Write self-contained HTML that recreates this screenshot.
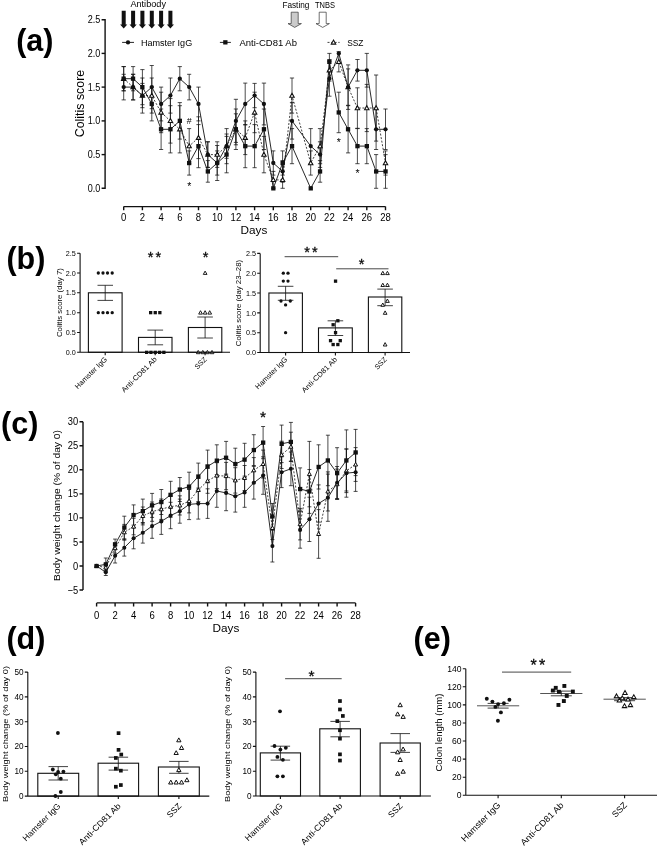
<!DOCTYPE html>
<html lang="en"><head><meta charset="utf-8"><title>Figure</title>
<style>html,body{margin:0;padding:0;background:#fff}svg{display:block}text{font-family:"Liberation Sans",sans-serif}</style></head><body>
<svg width="657" height="847" viewBox="0 0 657 847">
<rect width="657" height="847" fill="#fff"/>
<text x="16.2" y="50.8" font-size="30.5" text-anchor="start" fill="#000" font-weight="bold">(a)</text>
<text x="6.4" y="268.8" font-size="30.5" text-anchor="start" fill="#000" font-weight="bold">(b)</text>
<text x="1.1" y="433.8" font-size="30.5" text-anchor="start" fill="#000" font-weight="bold">(c)</text>
<text x="6.4" y="648.6" font-size="30.5" text-anchor="start" fill="#000" font-weight="bold">(d)</text>
<text x="413.6" y="648.6" font-size="30.5" text-anchor="start" fill="#000" font-weight="bold">(e)</text>
<path d="M101.6 19.7H105.1V188.3H101.6" stroke="#111" stroke-width="1.4" fill="none"/>
<line x1="101.6" y1="154.6" x2="105.1" y2="154.6" stroke="#111" stroke-width="1.4"/>
<line x1="101.6" y1="120.9" x2="105.1" y2="120.9" stroke="#111" stroke-width="1.4"/>
<line x1="101.6" y1="87.1" x2="105.1" y2="87.1" stroke="#111" stroke-width="1.4"/>
<line x1="101.6" y1="53.4" x2="105.1" y2="53.4" stroke="#111" stroke-width="1.4"/>
<text x="100.3" y="191.8" font-size="10.3" text-anchor="end" fill="#000" textLength="12.6" lengthAdjust="spacingAndGlyphs">0.0</text>
<text x="100.3" y="158.1" font-size="10.3" text-anchor="end" fill="#000" textLength="12.6" lengthAdjust="spacingAndGlyphs">0.5</text>
<text x="100.3" y="124.4" font-size="10.3" text-anchor="end" fill="#000" textLength="12.6" lengthAdjust="spacingAndGlyphs">1.0</text>
<text x="100.3" y="90.6" font-size="10.3" text-anchor="end" fill="#000" textLength="12.6" lengthAdjust="spacingAndGlyphs">1.5</text>
<text x="100.3" y="56.9" font-size="10.3" text-anchor="end" fill="#000" textLength="12.6" lengthAdjust="spacingAndGlyphs">2.0</text>
<text x="100.3" y="23.2" font-size="10.3" text-anchor="end" fill="#000" textLength="12.6" lengthAdjust="spacingAndGlyphs">2.5</text>
<text x="83.9" y="103.5" font-size="12.3" text-anchor="middle" fill="#000" transform="rotate(-90 83.9 103.5)" textLength="67.4" lengthAdjust="spacingAndGlyphs">Colitis score</text>
<path d="M123.7 206.6H385.5M123.7 206.6v3.6M142.4 206.6v3.6M161.1 206.6v3.6M179.8 206.6v3.6M198.5 206.6v3.6M217.2 206.6v3.6M235.9 206.6v3.6M254.6 206.6v3.6M273.3 206.6v3.6M292 206.6v3.6M310.7 206.6v3.6M329.4 206.6v3.6M348.1 206.6v3.6M366.8 206.6v3.6M385.5 206.6v3.6" stroke="#111" stroke-width="1.4" fill="none"/>
<text x="123.7" y="220.8" font-size="10.6" text-anchor="middle" fill="#000" textLength="5.3" lengthAdjust="spacingAndGlyphs">0</text>
<text x="142.4" y="220.8" font-size="10.6" text-anchor="middle" fill="#000" textLength="5.3" lengthAdjust="spacingAndGlyphs">2</text>
<text x="161.1" y="220.8" font-size="10.6" text-anchor="middle" fill="#000" textLength="5.3" lengthAdjust="spacingAndGlyphs">4</text>
<text x="179.8" y="220.8" font-size="10.6" text-anchor="middle" fill="#000" textLength="5.3" lengthAdjust="spacingAndGlyphs">6</text>
<text x="198.5" y="220.8" font-size="10.6" text-anchor="middle" fill="#000" textLength="5.3" lengthAdjust="spacingAndGlyphs">8</text>
<text x="217.2" y="220.8" font-size="10.6" text-anchor="middle" fill="#000" textLength="10.6" lengthAdjust="spacingAndGlyphs">10</text>
<text x="235.9" y="220.8" font-size="10.6" text-anchor="middle" fill="#000" textLength="10.6" lengthAdjust="spacingAndGlyphs">12</text>
<text x="254.6" y="220.8" font-size="10.6" text-anchor="middle" fill="#000" textLength="10.6" lengthAdjust="spacingAndGlyphs">14</text>
<text x="273.3" y="220.8" font-size="10.6" text-anchor="middle" fill="#000" textLength="10.6" lengthAdjust="spacingAndGlyphs">16</text>
<text x="292" y="220.8" font-size="10.6" text-anchor="middle" fill="#000" textLength="10.6" lengthAdjust="spacingAndGlyphs">18</text>
<text x="310.7" y="220.8" font-size="10.6" text-anchor="middle" fill="#000" textLength="10.6" lengthAdjust="spacingAndGlyphs">20</text>
<text x="329.4" y="220.8" font-size="10.6" text-anchor="middle" fill="#000" textLength="10.6" lengthAdjust="spacingAndGlyphs">22</text>
<text x="348.1" y="220.8" font-size="10.6" text-anchor="middle" fill="#000" textLength="10.6" lengthAdjust="spacingAndGlyphs">24</text>
<text x="366.8" y="220.8" font-size="10.6" text-anchor="middle" fill="#000" textLength="10.6" lengthAdjust="spacingAndGlyphs">26</text>
<text x="385.5" y="220.8" font-size="10.6" text-anchor="middle" fill="#000" textLength="10.6" lengthAdjust="spacingAndGlyphs">28</text>
<text x="254" y="233.8" font-size="11.3" text-anchor="middle" fill="#000" textLength="26.8" lengthAdjust="spacingAndGlyphs">Days</text>
<path d="M123.7 74.3V99.9M121.6 74.3H125.8M121.6 99.9H125.8" stroke="#111" stroke-width="0.75" fill="none"/>
<path d="M133.1 74.3V99.9M131 74.3H135.2M131 99.9H135.2" stroke="#111" stroke-width="0.75" fill="none"/>
<path d="M142.4 78V113.1M140.3 78H144.5M140.3 113.1H144.5" stroke="#111" stroke-width="0.75" fill="none"/>
<path d="M151.8 65.5V108.7M149.7 65.5H153.8M149.7 108.7H153.8" stroke="#111" stroke-width="0.75" fill="none"/>
<path d="M161.1 87.1V120.9M159 87.1H163.2M159 120.9H163.2" stroke="#111" stroke-width="0.75" fill="none"/>
<path d="M170.4 78V113.1M168.3 78H172.5M168.3 113.1H172.5" stroke="#111" stroke-width="0.75" fill="none"/>
<path d="M179.8 66.6V90.8M177.7 66.6H181.9M177.7 90.8H181.9" stroke="#111" stroke-width="0.75" fill="none"/>
<path d="M189.2 74.3V99.9M187.1 74.3H191.2M187.1 99.9H191.2" stroke="#111" stroke-width="0.75" fill="none"/>
<path d="M198.5 87.1V120.9M196.4 87.1H200.6M196.4 120.9H200.6" stroke="#111" stroke-width="0.75" fill="none"/>
<path d="M207.8 141.8V167.4M205.8 141.8H209.9M205.8 167.4H209.9" stroke="#111" stroke-width="0.75" fill="none"/>
<path d="M217.2 150.9V175.1M215.1 150.9H219.3M215.1 175.1H219.3" stroke="#111" stroke-width="0.75" fill="none"/>
<path d="M226.6 128.6V163.7M224.5 128.6H228.7M224.5 163.7H228.7" stroke="#111" stroke-width="0.75" fill="none"/>
<path d="M235.9 99.3V142.4M233.8 99.3H238M233.8 142.4H238" stroke="#111" stroke-width="0.75" fill="none"/>
<path d="M245.2 83.1V124.9M243.2 83.1H247.3M243.2 124.9H247.3" stroke="#111" stroke-width="0.75" fill="none"/>
<path d="M254.6 83.4V107.7M252.5 83.4H256.7M252.5 107.7H256.7" stroke="#111" stroke-width="0.75" fill="none"/>
<path d="M263.9 83.1V124.9M261.8 83.1H266.1M261.8 124.9H266.1" stroke="#111" stroke-width="0.75" fill="none"/>
<path d="M273.3 150.9V175.1M271.2 150.9H275.4M271.2 175.1H275.4" stroke="#111" stroke-width="0.75" fill="none"/>
<path d="M282.6 160.6V182.2M280.5 160.6H284.8M280.5 182.2H284.8" stroke="#111" stroke-width="0.75" fill="none"/>
<path d="M292 102.6V139.1M289.9 102.6H294.1M289.9 139.1H294.1" stroke="#111" stroke-width="0.75" fill="none"/>
<path d="M310.7 128.6V163.7M308.6 128.6H312.8M308.6 163.7H312.8" stroke="#111" stroke-width="0.75" fill="none"/>
<path d="M320.1 141.8V167.4M317.9 141.8H322.2M317.9 167.4H322.2" stroke="#111" stroke-width="0.75" fill="none"/>
<path d="M329.4 61.2V96.2M327.3 61.2H331.5M327.3 96.2H331.5" stroke="#111" stroke-width="0.75" fill="none"/>
<path d="M348.1 64.9V109.4M346 64.9H350.2M346 109.4H350.2" stroke="#111" stroke-width="0.75" fill="none"/>
<path d="M357.4 59.5V81.1M355.3 59.5H359.6M355.3 81.1H359.6" stroke="#111" stroke-width="0.75" fill="none"/>
<path d="M366.8 53.4V87.1M364.7 53.4H368.9M364.7 87.1H368.9" stroke="#111" stroke-width="0.75" fill="none"/>
<path d="M376.1 109V149.5M374 109H378.2M374 149.5H378.2" stroke="#111" stroke-width="0.75" fill="none"/>
<path d="M385.5 109V149.5M383.4 109H387.6M383.4 149.5H387.6" stroke="#111" stroke-width="0.75" fill="none"/>
<path d="M123.7 66.6V90.8M121.6 66.6H125.8M121.6 90.8H125.8" stroke="#111" stroke-width="0.75" fill="none"/>
<path d="M133.1 66.6V90.8M131 66.6H135.2M131 90.8H135.2" stroke="#111" stroke-width="0.75" fill="none"/>
<path d="M142.4 69.6V104.7M140.3 69.6H144.5M140.3 104.7H144.5" stroke="#111" stroke-width="0.75" fill="none"/>
<path d="M151.8 87.1V120.9M149.7 87.1H153.8M149.7 120.9H153.8" stroke="#111" stroke-width="0.75" fill="none"/>
<path d="M161.1 109V149.5M159 109H163.2M159 149.5H163.2" stroke="#111" stroke-width="0.75" fill="none"/>
<path d="M170.4 105.7V152.9M168.3 105.7H172.5M168.3 152.9H172.5" stroke="#111" stroke-width="0.75" fill="none"/>
<path d="M179.8 102.6V139.1M177.7 102.6H181.9M177.7 139.1H181.9" stroke="#111" stroke-width="0.75" fill="none"/>
<path d="M189.2 150.9V175.1M187.1 150.9H191.2M187.1 175.1H191.2" stroke="#111" stroke-width="0.75" fill="none"/>
<path d="M198.5 124.6V167.7M196.4 124.6H200.6M196.4 167.7H200.6" stroke="#111" stroke-width="0.75" fill="none"/>
<path d="M207.8 160.6V182.2M205.8 160.6H209.9M205.8 182.2H209.9" stroke="#111" stroke-width="0.75" fill="none"/>
<path d="M217.2 145.5V180.5M215.1 145.5H219.3M215.1 180.5H219.3" stroke="#111" stroke-width="0.75" fill="none"/>
<path d="M226.6 136.4V172.8M224.5 136.4H228.7M224.5 172.8H228.7" stroke="#111" stroke-width="0.75" fill="none"/>
<path d="M235.9 109V149.5M233.8 109H238M233.8 149.5H238" stroke="#111" stroke-width="0.75" fill="none"/>
<path d="M245.2 124.6V167.7M243.2 124.6H247.3M243.2 167.7H247.3" stroke="#111" stroke-width="0.75" fill="none"/>
<path d="M254.6 124.6V167.7M252.5 124.6H256.7M252.5 167.7H256.7" stroke="#111" stroke-width="0.75" fill="none"/>
<path d="M263.9 109V149.5M261.8 109H266.1M261.8 149.5H266.1" stroke="#111" stroke-width="0.75" fill="none"/>
<path d="M282.6 150.9V175.1M280.5 150.9H284.8M280.5 175.1H284.8" stroke="#111" stroke-width="0.75" fill="none"/>
<path d="M292 128.6V163.7M289.9 128.6H294.1M289.9 163.7H294.1" stroke="#111" stroke-width="0.75" fill="none"/>
<path d="M320.1 160.6V182.2M317.9 160.6H322.2M317.9 182.2H322.2" stroke="#111" stroke-width="0.75" fill="none"/>
<path d="M329.4 53.4V70.3M327.3 53.4H331.5M327.3 70.3H331.5" stroke="#111" stroke-width="0.75" fill="none"/>
<path d="M338.8 92.2V132.7M336.6 92.2H340.9M336.6 132.7H340.9" stroke="#111" stroke-width="0.75" fill="none"/>
<path d="M348.1 105.7V152.9M346 105.7H350.2M346 152.9H350.2" stroke="#111" stroke-width="0.75" fill="none"/>
<path d="M357.4 128.6V163.7M355.3 128.6H359.6M355.3 163.7H359.6" stroke="#111" stroke-width="0.75" fill="none"/>
<path d="M366.8 128.6V163.7M364.7 128.6H368.9M364.7 163.7H368.9" stroke="#111" stroke-width="0.75" fill="none"/>
<path d="M376.1 154.6V188.3M374 154.6H378.2M374 188.3H378.2" stroke="#111" stroke-width="0.75" fill="none"/>
<path d="M385.5 154.6V188.3M383.4 154.6H387.6M383.4 188.3H387.6" stroke="#111" stroke-width="0.75" fill="none"/>
<path d="M123.7 66.6V90.8M121.6 66.6H125.8M121.6 90.8H125.8" stroke="#111" stroke-width="0.75" fill="none"/>
<path d="M133.1 74.3V99.9M131 74.3H135.2M131 99.9H135.2" stroke="#111" stroke-width="0.75" fill="none"/>
<path d="M142.4 83.4V107.7M140.3 83.4H144.5M140.3 107.7H144.5" stroke="#111" stroke-width="0.75" fill="none"/>
<path d="M151.8 78V113.1M149.7 78H153.8M149.7 113.1H153.8" stroke="#111" stroke-width="0.75" fill="none"/>
<path d="M161.1 92.2V132.7M159 92.2H163.2M159 132.7H163.2" stroke="#111" stroke-width="0.75" fill="none"/>
<path d="M170.4 98.6V143.1M168.3 98.6H172.5M168.3 143.1H172.5" stroke="#111" stroke-width="0.75" fill="none"/>
<path d="M179.8 105.7V152.9M177.7 105.7H181.9M177.7 152.9H181.9" stroke="#111" stroke-width="0.75" fill="none"/>
<path d="M189.2 128.6V163.7M187.1 128.6H191.2M187.1 163.7H191.2" stroke="#111" stroke-width="0.75" fill="none"/>
<path d="M198.5 116.8V158.6M196.4 116.8H200.6M196.4 158.6H200.6" stroke="#111" stroke-width="0.75" fill="none"/>
<path d="M207.8 141.8V167.4M205.8 141.8H209.9M205.8 167.4H209.9" stroke="#111" stroke-width="0.75" fill="none"/>
<path d="M217.2 141.8V167.4M215.1 141.8H219.3M215.1 167.4H219.3" stroke="#111" stroke-width="0.75" fill="none"/>
<path d="M226.6 134V158.3M224.5 134H228.7M224.5 158.3H228.7" stroke="#111" stroke-width="0.75" fill="none"/>
<path d="M235.9 113.8V144.8M233.8 113.8H238M233.8 144.8H238" stroke="#111" stroke-width="0.75" fill="none"/>
<path d="M245.2 120.9V154.6M243.2 120.9H247.3M243.2 154.6H247.3" stroke="#111" stroke-width="0.75" fill="none"/>
<path d="M254.6 92.2V132.7M252.5 92.2H256.7M252.5 132.7H256.7" stroke="#111" stroke-width="0.75" fill="none"/>
<path d="M263.9 136.4V172.8M261.8 136.4H266.1M261.8 172.8H266.1" stroke="#111" stroke-width="0.75" fill="none"/>
<path d="M273.3 171.4V188.3M271.2 171.4H275.4M271.2 188.3H275.4" stroke="#111" stroke-width="0.75" fill="none"/>
<path d="M282.6 171.4V188.3M280.5 171.4H284.8M280.5 188.3H284.8" stroke="#111" stroke-width="0.75" fill="none"/>
<path d="M292 78V113.1M289.9 78H294.1M289.9 113.1H294.1" stroke="#111" stroke-width="0.75" fill="none"/>
<path d="M310.7 150.9V175.1M308.6 150.9H312.8M308.6 175.1H312.8" stroke="#111" stroke-width="0.75" fill="none"/>
<path d="M320.1 128.6V163.7M317.9 128.6H322.2M317.9 163.7H322.2" stroke="#111" stroke-width="0.75" fill="none"/>
<path d="M329.4 59.5V81.1M327.3 59.5H331.5M327.3 81.1H331.5" stroke="#111" stroke-width="0.75" fill="none"/>
<path d="M338.8 51.7V71.9M336.6 51.7H340.9M336.6 71.9H340.9" stroke="#111" stroke-width="0.75" fill="none"/>
<path d="M348.1 68.9V105.3M346 68.9H350.2M346 105.3H350.2" stroke="#111" stroke-width="0.75" fill="none"/>
<path d="M357.4 87.8V128.3M355.3 87.8H359.6M355.3 128.3H359.6" stroke="#111" stroke-width="0.75" fill="none"/>
<path d="M366.8 84.4V131.6M364.7 84.4H368.9M364.7 131.6H368.9" stroke="#111" stroke-width="0.75" fill="none"/>
<path d="M376.1 75V141.1M374 75H378.2M374 141.1H378.2" stroke="#111" stroke-width="0.75" fill="none"/>
<path d="M385.5 150.9V175.1M383.4 150.9H387.6M383.4 175.1H387.6" stroke="#111" stroke-width="0.75" fill="none"/>
<path d="M123.7 78.7L133.1 87.1L142.4 95.6L151.8 95.6L161.1 112.4L170.4 120.9L179.8 129.3L189.2 146.1L198.5 137.7L207.8 154.6L217.2 154.6L226.6 146.1L235.9 129.3L245.2 137.7L254.6 112.4L263.9 154.6L273.3 179.9L282.6 179.9L292 95.6L310.7 163L320.1 146.1L329.4 70.3L338.8 61.8L348.1 87.1L357.4 108L366.8 108L376.1 108L385.5 163" stroke="#111" stroke-width="0.8" fill="none" stroke-dasharray="2 1.6"/>
<path d="M123.7 87.1L133.1 87.1L142.4 95.6L151.8 87.1L161.1 104L170.4 95.6L179.8 78.7L189.2 87.1L198.5 104L207.8 154.6L217.2 163L226.6 146.1L235.9 120.9L245.2 104L254.6 95.6L263.9 104L273.3 163L282.6 171.4L292 120.9L310.7 146.1L320.1 154.6L329.4 78.7L338.8 53.4L348.1 87.1L357.4 70.3L366.8 70.3L376.1 129.3L385.5 129.3" stroke="#111" stroke-width="0.9" fill="none"/>
<path d="M123.7 78.7L133.1 78.7L142.4 87.1L151.8 104L161.1 129.3L170.4 129.3L179.8 120.9L189.2 163L198.5 146.1L207.8 171.4L217.2 163L226.6 154.6L235.9 129.3L245.2 146.1L254.6 146.1L263.9 129.3L273.3 188.3L282.6 163L292 146.1L310.7 188.3L320.1 171.4L329.4 61.8L338.8 112.4L348.1 129.3L357.4 146.1L366.8 146.1L376.1 171.4L385.5 171.4" stroke="#111" stroke-width="0.9" fill="none"/>
<path d="M123.7 76.4L125.9 80.4L121.5 80.4Z" fill="#fff" stroke="#111" stroke-width="1.1" stroke-linejoin="miter"/>
<path d="M133.1 84.8L135.2 88.8L130.9 88.8Z" fill="#fff" stroke="#111" stroke-width="1.1" stroke-linejoin="miter"/>
<path d="M142.4 93.3L144.6 97.2L140.2 97.2Z" fill="#fff" stroke="#111" stroke-width="1.1" stroke-linejoin="miter"/>
<path d="M151.8 93.3L153.9 97.2L149.6 97.2Z" fill="#fff" stroke="#111" stroke-width="1.1" stroke-linejoin="miter"/>
<path d="M161.1 110.1L163.3 114.1L158.9 114.1Z" fill="#fff" stroke="#111" stroke-width="1.1" stroke-linejoin="miter"/>
<path d="M170.4 118.6L172.6 122.5L168.2 122.5Z" fill="#fff" stroke="#111" stroke-width="1.1" stroke-linejoin="miter"/>
<path d="M179.8 127L182 130.9L177.6 130.9Z" fill="#fff" stroke="#111" stroke-width="1.1" stroke-linejoin="miter"/>
<path d="M189.2 143.8L191.3 147.8L187 147.8Z" fill="#fff" stroke="#111" stroke-width="1.1" stroke-linejoin="miter"/>
<path d="M198.5 135.4L200.7 139.4L196.3 139.4Z" fill="#fff" stroke="#111" stroke-width="1.1" stroke-linejoin="miter"/>
<path d="M207.8 152.3L210 156.2L205.7 156.2Z" fill="#fff" stroke="#111" stroke-width="1.1" stroke-linejoin="miter"/>
<path d="M217.2 152.3L219.4 156.2L215 156.2Z" fill="#fff" stroke="#111" stroke-width="1.1" stroke-linejoin="miter"/>
<path d="M226.6 143.8L228.8 147.8L224.4 147.8Z" fill="#fff" stroke="#111" stroke-width="1.1" stroke-linejoin="miter"/>
<path d="M235.9 127L238.1 130.9L233.7 130.9Z" fill="#fff" stroke="#111" stroke-width="1.1" stroke-linejoin="miter"/>
<path d="M245.2 135.4L247.4 139.4L243.1 139.4Z" fill="#fff" stroke="#111" stroke-width="1.1" stroke-linejoin="miter"/>
<path d="M254.6 110.1L256.8 114.1L252.4 114.1Z" fill="#fff" stroke="#111" stroke-width="1.1" stroke-linejoin="miter"/>
<path d="M263.9 152.3L266.1 156.2L261.8 156.2Z" fill="#fff" stroke="#111" stroke-width="1.1" stroke-linejoin="miter"/>
<path d="M273.3 177.6L275.5 181.5L271.1 181.5Z" fill="#fff" stroke="#111" stroke-width="1.1" stroke-linejoin="miter"/>
<path d="M282.6 177.6L284.8 181.5L280.4 181.5Z" fill="#fff" stroke="#111" stroke-width="1.1" stroke-linejoin="miter"/>
<path d="M292 93.3L294.2 97.2L289.8 97.2Z" fill="#fff" stroke="#111" stroke-width="1.1" stroke-linejoin="miter"/>
<path d="M310.7 160.7L312.9 164.7L308.5 164.7Z" fill="#fff" stroke="#111" stroke-width="1.1" stroke-linejoin="miter"/>
<path d="M320.1 143.8L322.2 147.8L317.9 147.8Z" fill="#fff" stroke="#111" stroke-width="1.1" stroke-linejoin="miter"/>
<path d="M329.4 68L331.6 71.9L327.2 71.9Z" fill="#fff" stroke="#111" stroke-width="1.1" stroke-linejoin="miter"/>
<path d="M338.8 59.5L340.9 63.5L336.6 63.5Z" fill="#fff" stroke="#111" stroke-width="1.1" stroke-linejoin="miter"/>
<path d="M348.1 84.8L350.3 88.8L345.9 88.8Z" fill="#fff" stroke="#111" stroke-width="1.1" stroke-linejoin="miter"/>
<path d="M357.4 105.7L359.6 109.7L355.2 109.7Z" fill="#fff" stroke="#111" stroke-width="1.1" stroke-linejoin="miter"/>
<path d="M366.8 105.7L369 109.7L364.6 109.7Z" fill="#fff" stroke="#111" stroke-width="1.1" stroke-linejoin="miter"/>
<path d="M376.1 105.7L378.3 109.7L373.9 109.7Z" fill="#fff" stroke="#111" stroke-width="1.1" stroke-linejoin="miter"/>
<path d="M385.5 160.7L387.7 164.7L383.3 164.7Z" fill="#fff" stroke="#111" stroke-width="1.1" stroke-linejoin="miter"/>
<circle cx="123.7" cy="87.1" r="2.15" fill="#111"/>
<circle cx="133.1" cy="87.1" r="2.15" fill="#111"/>
<circle cx="142.4" cy="95.6" r="2.15" fill="#111"/>
<circle cx="151.8" cy="87.1" r="2.15" fill="#111"/>
<circle cx="161.1" cy="104" r="2.15" fill="#111"/>
<circle cx="170.4" cy="95.6" r="2.15" fill="#111"/>
<circle cx="179.8" cy="78.7" r="2.15" fill="#111"/>
<circle cx="189.2" cy="87.1" r="2.15" fill="#111"/>
<circle cx="198.5" cy="104" r="2.15" fill="#111"/>
<circle cx="207.8" cy="154.6" r="2.15" fill="#111"/>
<circle cx="217.2" cy="163" r="2.15" fill="#111"/>
<circle cx="226.6" cy="146.1" r="2.15" fill="#111"/>
<circle cx="235.9" cy="120.9" r="2.15" fill="#111"/>
<circle cx="245.2" cy="104" r="2.15" fill="#111"/>
<circle cx="254.6" cy="95.6" r="2.15" fill="#111"/>
<circle cx="263.9" cy="104" r="2.15" fill="#111"/>
<circle cx="273.3" cy="163" r="2.15" fill="#111"/>
<circle cx="282.6" cy="171.4" r="2.15" fill="#111"/>
<circle cx="292" cy="120.9" r="2.15" fill="#111"/>
<circle cx="310.7" cy="146.1" r="2.15" fill="#111"/>
<circle cx="320.1" cy="154.6" r="2.15" fill="#111"/>
<circle cx="329.4" cy="78.7" r="2.15" fill="#111"/>
<circle cx="338.8" cy="53.4" r="2.15" fill="#111"/>
<circle cx="348.1" cy="87.1" r="2.15" fill="#111"/>
<circle cx="357.4" cy="70.3" r="2.15" fill="#111"/>
<circle cx="366.8" cy="70.3" r="2.15" fill="#111"/>
<circle cx="376.1" cy="129.3" r="2.15" fill="#111"/>
<circle cx="385.5" cy="129.3" r="2.15" fill="#111"/>
<rect x="121.5" y="76.5" width="4.3" height="4.3" fill="#111"/>
<rect x="130.9" y="76.5" width="4.3" height="4.3" fill="#111"/>
<rect x="140.2" y="85" width="4.3" height="4.3" fill="#111"/>
<rect x="149.6" y="101.8" width="4.3" height="4.3" fill="#111"/>
<rect x="158.9" y="127.1" width="4.3" height="4.3" fill="#111"/>
<rect x="168.3" y="127.1" width="4.3" height="4.3" fill="#111"/>
<rect x="177.7" y="118.7" width="4.3" height="4.3" fill="#111"/>
<rect x="187" y="160.9" width="4.3" height="4.3" fill="#111"/>
<rect x="196.3" y="144" width="4.3" height="4.3" fill="#111"/>
<rect x="205.7" y="169.3" width="4.3" height="4.3" fill="#111"/>
<rect x="215" y="160.9" width="4.3" height="4.3" fill="#111"/>
<rect x="224.4" y="152.4" width="4.3" height="4.3" fill="#111"/>
<rect x="233.7" y="127.1" width="4.3" height="4.3" fill="#111"/>
<rect x="243.1" y="144" width="4.3" height="4.3" fill="#111"/>
<rect x="252.5" y="144" width="4.3" height="4.3" fill="#111"/>
<rect x="261.8" y="127.1" width="4.3" height="4.3" fill="#111"/>
<rect x="271.2" y="186.2" width="4.3" height="4.3" fill="#111"/>
<rect x="280.5" y="160.9" width="4.3" height="4.3" fill="#111"/>
<rect x="289.9" y="144" width="4.3" height="4.3" fill="#111"/>
<rect x="308.6" y="186.2" width="4.3" height="4.3" fill="#111"/>
<rect x="317.9" y="169.3" width="4.3" height="4.3" fill="#111"/>
<rect x="327.2" y="59.7" width="4.3" height="4.3" fill="#111"/>
<rect x="336.6" y="110.3" width="4.3" height="4.3" fill="#111"/>
<rect x="345.9" y="127.1" width="4.3" height="4.3" fill="#111"/>
<rect x="355.3" y="144" width="4.3" height="4.3" fill="#111"/>
<rect x="364.7" y="144" width="4.3" height="4.3" fill="#111"/>
<rect x="374" y="169.3" width="4.3" height="4.3" fill="#111"/>
<rect x="383.4" y="169.3" width="4.3" height="4.3" fill="#111"/>
<text x="189.2" y="124" font-size="8.8" text-anchor="middle" fill="#000">#</text>
<text x="189.2" y="189.8" font-size="10.5" text-anchor="middle" fill="#000">*</text>
<text x="338.8" y="145.7" font-size="10.5" text-anchor="middle" fill="#000">*</text>
<text x="357.6" y="176.5" font-size="10.5" text-anchor="middle" fill="#000">*</text>
<text x="148.2" y="7.2" font-size="8.6" text-anchor="middle" fill="#000" textLength="35.6" lengthAdjust="spacingAndGlyphs">Antibody</text>
<path d="M121.7 10.8H125.7V24.4H127.3L123.7 28.4L120.1 24.4H121.7Z" fill="#111"/>
<path d="M131.1 10.8H135.1V24.4H136.7L133.1 28.4L129.5 24.4H131.1Z" fill="#111"/>
<path d="M140.4 10.8H144.4V24.4H146L142.4 28.4L138.8 24.4H140.4Z" fill="#111"/>
<path d="M149.8 10.8H153.8V24.4H155.3L151.8 28.4L148.2 24.4H149.8Z" fill="#111"/>
<path d="M159.1 10.8H163.1V24.4H164.7L161.1 28.4L157.5 24.4H159.1Z" fill="#111"/>
<path d="M168.4 10.8H172.4V24.4H174L170.4 28.4L166.8 24.4H168.4Z" fill="#111"/>
<text x="295.9" y="7.6" font-size="8.6" text-anchor="middle" fill="#000" textLength="27" lengthAdjust="spacingAndGlyphs">Fasting</text>
<text x="325" y="7.6" font-size="8.6" text-anchor="middle" fill="#000" textLength="20" lengthAdjust="spacingAndGlyphs">TNBS</text>
<path d="M291.2 12.2H298.2V23.6H301.4L294.7 27.4L288 23.6H291.2Z" fill="#cbcbcb" stroke="#333" stroke-width="0.7"/>
<path d="M319.2 12.2H326.2V23.6H329.4L322.7 27.4L316 23.6H319.2Z" fill="#fff" stroke="#333" stroke-width="0.7"/>
<line x1="122.1" y1="42.4" x2="134" y2="42.4" stroke="#111" stroke-width="0.9"/>
<circle cx="128" cy="42.4" r="2.15" fill="#111"/>
<text x="140.9" y="45.6" font-size="9.2" text-anchor="start" fill="#000" textLength="51.3" lengthAdjust="spacingAndGlyphs">Hamster IgG</text>
<line x1="219.9" y1="42.4" x2="230.9" y2="42.4" stroke="#111" stroke-width="0.9"/>
<rect x="223.2" y="40.2" width="4.3" height="4.3" fill="#111"/>
<text x="239.4" y="45.6" font-size="9.2" text-anchor="start" fill="#000" textLength="57.6" lengthAdjust="spacingAndGlyphs">Anti-CD81 Ab</text>
<line x1="327.5" y1="42.4" x2="339.6" y2="42.4" stroke="#111" stroke-width="0.8" stroke-dasharray="2 1.6"/>
<path d="M333.5 40.1L335.7 44.1L331.3 44.1Z" fill="#fff" stroke="#111" stroke-width="1.1" stroke-linejoin="miter"/>
<text x="347.2" y="45.6" font-size="9.2" text-anchor="start" fill="#000" textLength="16.3" lengthAdjust="spacingAndGlyphs">SSZ</text>
<rect x="88.4" y="292.8" width="33.7" height="59.5" fill="#fff" stroke="#111" stroke-width="1.1"/>
<path d="M105.2 285.3V300.4M97.5 285.3H113M97.5 300.4H113" stroke="#111" stroke-width="0.8" fill="none"/>
<circle cx="98.3" cy="273" r="1.65" fill="#111"/>
<circle cx="103" cy="273" r="1.65" fill="#111"/>
<circle cx="107.5" cy="273" r="1.65" fill="#111"/>
<circle cx="112.2" cy="273" r="1.65" fill="#111"/>
<circle cx="98.3" cy="312.7" r="1.65" fill="#111"/>
<circle cx="103" cy="312.7" r="1.65" fill="#111"/>
<circle cx="107.5" cy="312.7" r="1.65" fill="#111"/>
<circle cx="112.2" cy="312.7" r="1.65" fill="#111"/>
<rect x="138.5" y="337.4" width="33.5" height="14.9" fill="#fff" stroke="#111" stroke-width="1.1"/>
<path d="M155.2 330.1V344.8M147.4 330.1H163.1M147.4 344.8H163.1" stroke="#111" stroke-width="0.8" fill="none"/>
<rect x="149" y="311" width="3.3" height="3.3" fill="#111"/>
<rect x="153.6" y="311" width="3.3" height="3.3" fill="#111"/>
<rect x="158.2" y="311" width="3.3" height="3.3" fill="#111"/>
<rect x="145" y="350.7" width="3.3" height="3.3" fill="#111"/>
<rect x="149.3" y="350.7" width="3.3" height="3.3" fill="#111"/>
<rect x="153.6" y="350.7" width="3.3" height="3.3" fill="#111"/>
<rect x="157.9" y="350.7" width="3.3" height="3.3" fill="#111"/>
<rect x="162.2" y="350.7" width="3.3" height="3.3" fill="#111"/>
<rect x="188.4" y="327.5" width="33.4" height="24.8" fill="#fff" stroke="#111" stroke-width="1.1"/>
<path d="M205.1 317V338M197.3 317H212.9M197.3 338H212.9" stroke="#111" stroke-width="0.8" fill="none"/>
<path d="M205.1 271.1L207 274.4L203.3 274.4Z" fill="#fff" stroke="#111" stroke-width="0.95" stroke-linejoin="miter"/>
<path d="M200.5 310.7L202.4 314.1L198.7 314.1Z" fill="#fff" stroke="#111" stroke-width="0.95" stroke-linejoin="miter"/>
<path d="M205.1 310.7L207 314.1L203.3 314.1Z" fill="#fff" stroke="#111" stroke-width="0.95" stroke-linejoin="miter"/>
<path d="M209.7 310.7L211.6 314.1L207.9 314.1Z" fill="#fff" stroke="#111" stroke-width="0.95" stroke-linejoin="miter"/>
<path d="M198.2 350.4L200.1 353.7L196.4 353.7Z" fill="#fff" stroke="#111" stroke-width="0.95" stroke-linejoin="miter"/>
<path d="M202.8 350.4L204.7 353.7L201 353.7Z" fill="#fff" stroke="#111" stroke-width="0.95" stroke-linejoin="miter"/>
<path d="M207.4 350.4L209.3 353.7L205.6 353.7Z" fill="#fff" stroke="#111" stroke-width="0.95" stroke-linejoin="miter"/>
<path d="M212 350.4L213.9 353.7L210.2 353.7Z" fill="#fff" stroke="#111" stroke-width="0.95" stroke-linejoin="miter"/>
<path d="M80.1 253.2V352.3H230M77.1 352.3H80.1M77.1 332.5H80.1M77.1 312.7H80.1M77.1 292.8H80.1M77.1 273H80.1M77.1 253.2H80.1M105.2 352.3v3M155.2 352.3v3M205.1 352.3v3" stroke="#111" stroke-width="1.1" fill="none"/>
<text x="75.8" y="354.9" font-size="7.2" text-anchor="end" fill="#000">0.0</text>
<text x="75.8" y="335.1" font-size="7.2" text-anchor="end" fill="#000">0.5</text>
<text x="75.8" y="315.3" font-size="7.2" text-anchor="end" fill="#000">1.0</text>
<text x="75.8" y="295.4" font-size="7.2" text-anchor="end" fill="#000">1.5</text>
<text x="75.8" y="275.6" font-size="7.2" text-anchor="end" fill="#000">2.0</text>
<text x="75.8" y="255.8" font-size="7.2" text-anchor="end" fill="#000">2.5</text>
<text x="62.2" y="302.6" font-size="7.8" text-anchor="middle" fill="#000" transform="rotate(-90 62.2 302.6)">Colitis score (day 7)</text>
<text x="107.5" y="359.8" font-size="7.2" text-anchor="end" fill="#000" transform="rotate(-45 107.5 359.8)" textLength="42" lengthAdjust="spacingAndGlyphs">Hamster IgG</text>
<text x="157.4" y="359.8" font-size="7.2" text-anchor="end" fill="#000" transform="rotate(-45 157.4 359.8)" textLength="46.7" lengthAdjust="spacingAndGlyphs">Anti-CD81 Ab</text>
<text x="207.3" y="359.8" font-size="7.2" text-anchor="end" fill="#000" transform="rotate(-45 207.3 359.8)" textLength="14" lengthAdjust="spacingAndGlyphs">SSZ</text>
<text x="155.4" y="261.7" font-size="14.5" text-anchor="middle" fill="#000" letter-spacing="1.9" stroke="#111" stroke-width="0.3">**</text>
<text x="205.6" y="261.7" font-size="14.5" text-anchor="middle" fill="#000" stroke="#111" stroke-width="0.3">*</text>
<rect x="268.9" y="293" width="33.5" height="59.5" fill="#fff" stroke="#111" stroke-width="1.1"/>
<path d="M285.6 286.3V300.3M277.8 286.3H293.4M277.8 300.3H293.4" stroke="#111" stroke-width="0.8" fill="none"/>
<circle cx="283.3" cy="273.2" r="1.65" fill="#111"/>
<circle cx="288" cy="273.2" r="1.65" fill="#111"/>
<circle cx="283.3" cy="281.1" r="1.65" fill="#111"/>
<circle cx="288" cy="281.1" r="1.65" fill="#111"/>
<circle cx="281" cy="301" r="1.65" fill="#111"/>
<circle cx="290.3" cy="301" r="1.65" fill="#111"/>
<circle cx="285.6" cy="304.9" r="1.65" fill="#111"/>
<circle cx="285.6" cy="332.7" r="1.65" fill="#111"/>
<rect x="318.5" y="327.9" width="33.8" height="24.6" fill="#fff" stroke="#111" stroke-width="1.1"/>
<path d="M335.4 320.8V335.5M327.6 320.8H343.2M327.6 335.5H343.2" stroke="#111" stroke-width="0.8" fill="none"/>
<rect x="333.9" y="279.5" width="3.3" height="3.3" fill="#111"/>
<rect x="336.2" y="319.1" width="3.3" height="3.3" fill="#111"/>
<rect x="331.5" y="323.1" width="3.3" height="3.3" fill="#111"/>
<rect x="333.9" y="331" width="3.3" height="3.3" fill="#111"/>
<rect x="328.9" y="339" width="3.3" height="3.3" fill="#111"/>
<rect x="338.6" y="339" width="3.3" height="3.3" fill="#111"/>
<rect x="331.5" y="342.9" width="3.3" height="3.3" fill="#111"/>
<rect x="336.2" y="342.9" width="3.3" height="3.3" fill="#111"/>
<rect x="368.4" y="297" width="33.4" height="55.5" fill="#fff" stroke="#111" stroke-width="1.1"/>
<path d="M385.1 289.1V305.7M377.3 289.1H392.9M377.3 305.7H392.9" stroke="#111" stroke-width="0.8" fill="none"/>
<path d="M382.8 271.3L384.6 274.6L380.9 274.6Z" fill="#fff" stroke="#111" stroke-width="0.95" stroke-linejoin="miter"/>
<path d="M387.4 271.3L389.3 274.6L385.6 274.6Z" fill="#fff" stroke="#111" stroke-width="0.95" stroke-linejoin="miter"/>
<path d="M382.8 283.2L384.6 286.5L380.9 286.5Z" fill="#fff" stroke="#111" stroke-width="0.95" stroke-linejoin="miter"/>
<path d="M387.4 283.2L389.3 286.5L385.6 286.5Z" fill="#fff" stroke="#111" stroke-width="0.95" stroke-linejoin="miter"/>
<path d="M387.4 299L389.3 302.4L385.6 302.4Z" fill="#fff" stroke="#111" stroke-width="0.95" stroke-linejoin="miter"/>
<path d="M382.8 303L384.6 306.3L380.9 306.3Z" fill="#fff" stroke="#111" stroke-width="0.95" stroke-linejoin="miter"/>
<path d="M385.1 310.9L387 314.3L383.3 314.3Z" fill="#fff" stroke="#111" stroke-width="0.95" stroke-linejoin="miter"/>
<path d="M385.1 342.6L387 346L383.3 346Z" fill="#fff" stroke="#111" stroke-width="0.95" stroke-linejoin="miter"/>
<path d="M260.2 253.4V352.5H410M257.2 352.5H260.2M257.2 332.7H260.2M257.2 312.9H260.2M257.2 293H260.2M257.2 273.2H260.2M257.2 253.4H260.2M285.6 352.5v3M335.4 352.5v3M385.1 352.5v3" stroke="#111" stroke-width="1.1" fill="none"/>
<text x="255.9" y="355.1" font-size="7.2" text-anchor="end" fill="#000">0.0</text>
<text x="255.9" y="335.3" font-size="7.2" text-anchor="end" fill="#000">0.5</text>
<text x="255.9" y="315.5" font-size="7.2" text-anchor="end" fill="#000">1.0</text>
<text x="255.9" y="295.6" font-size="7.2" text-anchor="end" fill="#000">1.5</text>
<text x="255.9" y="275.8" font-size="7.2" text-anchor="end" fill="#000">2.0</text>
<text x="255.9" y="256" font-size="7.2" text-anchor="end" fill="#000">2.5</text>
<text x="241.3" y="303" font-size="7.8" text-anchor="middle" fill="#000" transform="rotate(-90 241.3 303)">Colitis score (day 23–28)</text>
<text x="287.8" y="360" font-size="7.2" text-anchor="end" fill="#000" transform="rotate(-45 287.8 360)" textLength="42" lengthAdjust="spacingAndGlyphs">Hamster IgG</text>
<text x="337.6" y="360" font-size="7.2" text-anchor="end" fill="#000" transform="rotate(-45 337.6 360)" textLength="46.7" lengthAdjust="spacingAndGlyphs">Anti-CD81 Ab</text>
<text x="387.3" y="360" font-size="7.2" text-anchor="end" fill="#000" transform="rotate(-45 387.3 360)" textLength="14" lengthAdjust="spacingAndGlyphs">SSZ</text>
<line x1="284.6" y1="256.7" x2="338.2" y2="256.7" stroke="#333" stroke-width="0.9"/>
<text x="311.9" y="257" font-size="14.5" text-anchor="middle" fill="#000" letter-spacing="1.9" stroke="#111" stroke-width="0.3">**</text>
<line x1="336.2" y1="268.8" x2="388.5" y2="268.8" stroke="#333" stroke-width="0.9"/>
<text x="361.7" y="269.4" font-size="14.5" text-anchor="middle" fill="#000" stroke="#111" stroke-width="0.3">*</text>
<path d="M83 421.7V590M79.5 590H83M79.5 566H83M79.5 542H83M79.5 517.9H83M79.5 493.9H83M79.5 469.8H83M79.5 445.8H83M79.5 421.7H83" stroke="#111" stroke-width="1.4" fill="none"/>
<text x="78.2" y="593.5" font-size="10.6" text-anchor="end" fill="#000" textLength="10.6" lengthAdjust="spacingAndGlyphs">−5</text>
<text x="78.2" y="569.5" font-size="10.6" text-anchor="end" fill="#000" textLength="5.2" lengthAdjust="spacingAndGlyphs">0</text>
<text x="78.2" y="545.5" font-size="10.6" text-anchor="end" fill="#000" textLength="5.2" lengthAdjust="spacingAndGlyphs">5</text>
<text x="78.2" y="521.4" font-size="10.6" text-anchor="end" fill="#000" textLength="10.4" lengthAdjust="spacingAndGlyphs">10</text>
<text x="78.2" y="497.4" font-size="10.6" text-anchor="end" fill="#000" textLength="10.4" lengthAdjust="spacingAndGlyphs">15</text>
<text x="78.2" y="473.3" font-size="10.6" text-anchor="end" fill="#000" textLength="10.4" lengthAdjust="spacingAndGlyphs">20</text>
<text x="78.2" y="449.2" font-size="10.6" text-anchor="end" fill="#000" textLength="10.4" lengthAdjust="spacingAndGlyphs">25</text>
<text x="78.2" y="425.2" font-size="10.6" text-anchor="end" fill="#000" textLength="10.4" lengthAdjust="spacingAndGlyphs">30</text>
<text x="59.8" y="505.5" font-size="9.6" text-anchor="middle" fill="#000" transform="rotate(-90 59.8 505.5)" textLength="151" lengthAdjust="spacingAndGlyphs">Body weight change (% of day 0)</text>
<path d="M96.6 602.9H355.6M96.6 602.9v3.6M115.1 602.9v3.6M133.6 602.9v3.6M152.1 602.9v3.6M170.6 602.9v3.6M189.1 602.9v3.6M207.6 602.9v3.6M226.1 602.9v3.6M244.6 602.9v3.6M263.1 602.9v3.6M281.6 602.9v3.6M300.1 602.9v3.6M318.6 602.9v3.6M337.1 602.9v3.6M355.6 602.9v3.6" stroke="#111" stroke-width="1.4" fill="none"/>
<text x="96.6" y="618.8" font-size="10.6" text-anchor="middle" fill="#000" textLength="5.3" lengthAdjust="spacingAndGlyphs">0</text>
<text x="115.1" y="618.8" font-size="10.6" text-anchor="middle" fill="#000" textLength="5.3" lengthAdjust="spacingAndGlyphs">2</text>
<text x="133.6" y="618.8" font-size="10.6" text-anchor="middle" fill="#000" textLength="5.3" lengthAdjust="spacingAndGlyphs">4</text>
<text x="152.1" y="618.8" font-size="10.6" text-anchor="middle" fill="#000" textLength="5.3" lengthAdjust="spacingAndGlyphs">6</text>
<text x="170.6" y="618.8" font-size="10.6" text-anchor="middle" fill="#000" textLength="5.3" lengthAdjust="spacingAndGlyphs">8</text>
<text x="189.1" y="618.8" font-size="10.6" text-anchor="middle" fill="#000" textLength="10.6" lengthAdjust="spacingAndGlyphs">10</text>
<text x="207.6" y="618.8" font-size="10.6" text-anchor="middle" fill="#000" textLength="10.6" lengthAdjust="spacingAndGlyphs">12</text>
<text x="226.1" y="618.8" font-size="10.6" text-anchor="middle" fill="#000" textLength="10.6" lengthAdjust="spacingAndGlyphs">14</text>
<text x="244.6" y="618.8" font-size="10.6" text-anchor="middle" fill="#000" textLength="10.6" lengthAdjust="spacingAndGlyphs">16</text>
<text x="263.1" y="618.8" font-size="10.6" text-anchor="middle" fill="#000" textLength="10.6" lengthAdjust="spacingAndGlyphs">18</text>
<text x="281.6" y="618.8" font-size="10.6" text-anchor="middle" fill="#000" textLength="10.6" lengthAdjust="spacingAndGlyphs">20</text>
<text x="300.1" y="618.8" font-size="10.6" text-anchor="middle" fill="#000" textLength="10.6" lengthAdjust="spacingAndGlyphs">22</text>
<text x="318.6" y="618.8" font-size="10.6" text-anchor="middle" fill="#000" textLength="10.6" lengthAdjust="spacingAndGlyphs">24</text>
<text x="337.1" y="618.8" font-size="10.6" text-anchor="middle" fill="#000" textLength="10.6" lengthAdjust="spacingAndGlyphs">26</text>
<text x="355.6" y="618.8" font-size="10.6" text-anchor="middle" fill="#000" textLength="10.6" lengthAdjust="spacingAndGlyphs">28</text>
<text x="226" y="632.4" font-size="11.3" text-anchor="middle" fill="#000" textLength="26.8" lengthAdjust="spacingAndGlyphs">Days</text>
<path d="M105.8 558V570.7M103.8 558H107.8M103.8 570.7H107.8" stroke="#111" stroke-width="0.75" fill="none"/>
<path d="M105.8 563.6V571.3M103.8 563.6H107.8M103.8 571.3H107.8" stroke="#111" stroke-width="0.75" fill="none"/>
<path d="M105.8 569V575.5M103.8 569H107.8M103.8 575.5H107.8" stroke="#111" stroke-width="0.75" fill="none"/>
<path d="M115.1 539.1V549.6M113.1 539.1H117.1M113.1 549.6H117.1" stroke="#111" stroke-width="0.75" fill="none"/>
<path d="M115.1 543.2V553.2M113.1 543.2H117.1M113.1 553.2H117.1" stroke="#111" stroke-width="0.75" fill="none"/>
<path d="M115.1 548.3V563M113.1 548.3H117.1M113.1 563H117.1" stroke="#111" stroke-width="0.75" fill="none"/>
<path d="M124.3 516.2V538.9M122.3 516.2H126.3M122.3 538.9H126.3" stroke="#111" stroke-width="0.75" fill="none"/>
<path d="M124.3 524.4V540.2M122.3 524.4H126.3M122.3 540.2H126.3" stroke="#111" stroke-width="0.75" fill="none"/>
<path d="M124.3 539.3V556.1M122.3 539.3H126.3M122.3 556.1H126.3" stroke="#111" stroke-width="0.75" fill="none"/>
<path d="M133.6 504.9V525.1M131.6 504.9H135.6M131.6 525.1H135.6" stroke="#111" stroke-width="0.75" fill="none"/>
<path d="M133.6 518.3V534.8M131.6 518.3H135.6M131.6 534.8H135.6" stroke="#111" stroke-width="0.75" fill="none"/>
<path d="M133.6 527.8V548.8M131.6 527.8H135.6M131.6 548.8H135.6" stroke="#111" stroke-width="0.75" fill="none"/>
<path d="M142.8 499.1V523.2M140.8 499.1H144.8M140.8 523.2H144.8" stroke="#111" stroke-width="0.75" fill="none"/>
<path d="M142.8 507V524.9M140.8 507H144.8M140.8 524.9H144.8" stroke="#111" stroke-width="0.75" fill="none"/>
<path d="M142.8 522.5V543.1M140.8 522.5H144.8M140.8 543.1H144.8" stroke="#111" stroke-width="0.75" fill="none"/>
<path d="M152.1 493.4V517.4M150.1 493.4H154.1M150.1 517.4H154.1" stroke="#111" stroke-width="0.75" fill="none"/>
<path d="M152.1 502V521.3M150.1 502H154.1M150.1 521.3H154.1" stroke="#111" stroke-width="0.75" fill="none"/>
<path d="M152.1 513.9V538.3M150.1 513.9H154.1M150.1 538.3H154.1" stroke="#111" stroke-width="0.75" fill="none"/>
<path d="M161.3 489.5V514.5M159.3 489.5H163.3M159.3 514.5H163.3" stroke="#111" stroke-width="0.75" fill="none"/>
<path d="M161.3 499V519.4M159.3 499H163.3M159.3 519.4H163.3" stroke="#111" stroke-width="0.75" fill="none"/>
<path d="M161.3 508.4V534.4M159.3 508.4H163.3M159.3 534.4H163.3" stroke="#111" stroke-width="0.75" fill="none"/>
<path d="M170.6 481.3V508.3M168.6 481.3H172.6M168.6 508.3H172.6" stroke="#111" stroke-width="0.75" fill="none"/>
<path d="M170.6 495.9V517.3M168.6 495.9H172.6M168.6 517.3H172.6" stroke="#111" stroke-width="0.75" fill="none"/>
<path d="M170.6 502.3V528.7M168.6 502.3H172.6M168.6 528.7H172.6" stroke="#111" stroke-width="0.75" fill="none"/>
<path d="M179.8 477.5V501.5M177.8 477.5H181.8M177.8 501.5H181.8" stroke="#111" stroke-width="0.75" fill="none"/>
<path d="M179.8 495.8V515M177.8 495.8H181.8M177.8 515H181.8" stroke="#111" stroke-width="0.75" fill="none"/>
<path d="M179.8 499.1V523.2M177.8 499.1H181.8M177.8 523.2H181.8" stroke="#111" stroke-width="0.75" fill="none"/>
<path d="M189.1 472.2V501.1M187.1 472.2H191.1M187.1 501.1H191.1" stroke="#111" stroke-width="0.75" fill="none"/>
<path d="M189.1 489.2V512.9M187.1 489.2H191.1M187.1 512.9H191.1" stroke="#111" stroke-width="0.75" fill="none"/>
<path d="M189.1 489.3V519.6M187.1 489.3H191.1M187.1 519.6H191.1" stroke="#111" stroke-width="0.75" fill="none"/>
<path d="M198.3 463.1V490M196.3 463.1H200.3M196.3 490H200.3" stroke="#111" stroke-width="0.75" fill="none"/>
<path d="M198.3 478.4V501.6M196.3 478.4H200.3M196.3 501.6H200.3" stroke="#111" stroke-width="0.75" fill="none"/>
<path d="M198.3 488.1V519.1M196.3 488.1H200.3M196.3 519.1H200.3" stroke="#111" stroke-width="0.75" fill="none"/>
<path d="M207.6 450.1V482.8M205.6 450.1H209.6M205.6 482.8H209.6" stroke="#111" stroke-width="0.75" fill="none"/>
<path d="M207.6 468.4V493.3M205.6 468.4H209.6M205.6 493.3H209.6" stroke="#111" stroke-width="0.75" fill="none"/>
<path d="M207.6 488.8V518.4M205.6 488.8H209.6M205.6 518.4H209.6" stroke="#111" stroke-width="0.75" fill="none"/>
<path d="M216.8 444.8V476.5M214.8 444.8H218.8M214.8 476.5H218.8" stroke="#111" stroke-width="0.75" fill="none"/>
<path d="M216.8 462.7V488.5M214.8 462.7H218.8M214.8 488.5H218.8" stroke="#111" stroke-width="0.75" fill="none"/>
<path d="M216.8 474.6V507.3M214.8 474.6H218.8M214.8 507.3H218.8" stroke="#111" stroke-width="0.75" fill="none"/>
<path d="M226.1 441.4V474.1M224.1 441.4H228.1M224.1 474.1H228.1" stroke="#111" stroke-width="0.75" fill="none"/>
<path d="M226.1 462.4V489.7M224.1 462.4H228.1M224.1 489.7H228.1" stroke="#111" stroke-width="0.75" fill="none"/>
<path d="M226.1 475.1V510.7M224.1 475.1H228.1M224.1 510.7H228.1" stroke="#111" stroke-width="0.75" fill="none"/>
<path d="M235.3 448.2V479.9M233.3 448.2H237.3M233.3 479.9H237.3" stroke="#111" stroke-width="0.75" fill="none"/>
<path d="M235.3 467.7V493.1M233.3 467.7H237.3M233.3 493.1H237.3" stroke="#111" stroke-width="0.75" fill="none"/>
<path d="M235.3 480.4V512.1M233.3 480.4H237.3M233.3 512.1H237.3" stroke="#111" stroke-width="0.75" fill="none"/>
<path d="M244.6 443.3V476.1M242.6 443.3H246.6M242.6 476.1H246.6" stroke="#111" stroke-width="0.75" fill="none"/>
<path d="M244.6 465.5V490.5M242.6 465.5H246.6M242.6 490.5H246.6" stroke="#111" stroke-width="0.75" fill="none"/>
<path d="M244.6 477.5V507.3M242.6 477.5H246.6M242.6 507.3H246.6" stroke="#111" stroke-width="0.75" fill="none"/>
<path d="M253.8 434.7V465.5M251.8 434.7H255.8M251.8 465.5H255.8" stroke="#111" stroke-width="0.75" fill="none"/>
<path d="M253.8 457.6V483M251.8 457.6H255.8M251.8 483H255.8" stroke="#111" stroke-width="0.75" fill="none"/>
<path d="M253.8 466.4V499.1M251.8 466.4H255.8M251.8 499.1H255.8" stroke="#111" stroke-width="0.75" fill="none"/>
<path d="M263.1 426.5V458.7M261.1 426.5H265.1M261.1 458.7H265.1" stroke="#111" stroke-width="0.75" fill="none"/>
<path d="M263.1 450.1V478M261.1 450.1H265.1M261.1 478H265.1" stroke="#111" stroke-width="0.75" fill="none"/>
<path d="M263.1 456.8V494.3M261.1 456.8H265.1M261.1 494.3H265.1" stroke="#111" stroke-width="0.75" fill="none"/>
<path d="M272.4 503.5V529.4M270.4 503.5H274.4M270.4 529.4H274.4" stroke="#111" stroke-width="0.75" fill="none"/>
<path d="M272.4 516.5V539.5M270.4 516.5H274.4M270.4 539.5H274.4" stroke="#111" stroke-width="0.75" fill="none"/>
<path d="M272.4 530.3V562M270.4 530.3H274.4M270.4 562H274.4" stroke="#111" stroke-width="0.75" fill="none"/>
<path d="M281.6 425.1V462.6M279.6 425.1H283.6M279.6 462.6H283.6" stroke="#111" stroke-width="0.75" fill="none"/>
<path d="M281.6 441.2V468.5M279.6 441.2H283.6M279.6 468.5H283.6" stroke="#111" stroke-width="0.75" fill="none"/>
<path d="M281.6 456.8V487.6M279.6 456.8H283.6M279.6 487.6H283.6" stroke="#111" stroke-width="0.75" fill="none"/>
<path d="M290.9 422.4V461.4M288.9 422.4H292.9M288.9 461.4H292.9" stroke="#111" stroke-width="0.75" fill="none"/>
<path d="M290.9 432.2V461.2M288.9 432.2H292.9M288.9 461.2H292.9" stroke="#111" stroke-width="0.75" fill="none"/>
<path d="M290.9 452V485.7M288.9 452H292.9M288.9 485.7H292.9" stroke="#111" stroke-width="0.75" fill="none"/>
<path d="M300.1 467.9V510.2M298.1 467.9H302.1M298.1 510.2H302.1" stroke="#111" stroke-width="0.75" fill="none"/>
<path d="M300.1 508.4V539.9M298.1 508.4H302.1M298.1 539.9H302.1" stroke="#111" stroke-width="0.75" fill="none"/>
<path d="M300.1 511.6V548.2M298.1 511.6H302.1M298.1 548.2H302.1" stroke="#111" stroke-width="0.75" fill="none"/>
<path d="M309.4 469.5V513.4M307.4 469.5H311.4M307.4 513.4H311.4" stroke="#111" stroke-width="0.75" fill="none"/>
<path d="M309.4 441.4V506.8M307.4 441.4H311.4M307.4 506.8H311.4" stroke="#111" stroke-width="0.75" fill="none"/>
<path d="M309.4 497.2V541.5M307.4 497.2H311.4M307.4 541.5H311.4" stroke="#111" stroke-width="0.75" fill="none"/>
<path d="M318.6 444.8V489M316.6 444.8H320.6M316.6 489H320.6" stroke="#111" stroke-width="0.75" fill="none"/>
<path d="M318.6 509.6V558.3M316.6 509.6H320.6M316.6 558.3H320.6" stroke="#111" stroke-width="0.75" fill="none"/>
<path d="M318.6 484.9V522.1M316.6 484.9H320.6M316.6 522.1H320.6" stroke="#111" stroke-width="0.75" fill="none"/>
<path d="M327.9 435.2V485.7M325.9 435.2H329.9M325.9 485.7H329.9" stroke="#111" stroke-width="0.75" fill="none"/>
<path d="M327.9 471.9V511M325.9 471.9H329.9M325.9 511H329.9" stroke="#111" stroke-width="0.75" fill="none"/>
<path d="M327.9 474.1V521.3M325.9 474.1H329.9M325.9 521.3H329.9" stroke="#111" stroke-width="0.75" fill="none"/>
<path d="M337.1 447.7V498.7M335.1 447.7H339.1M335.1 498.7H339.1" stroke="#111" stroke-width="0.75" fill="none"/>
<path d="M337.1 469.1V499.4M335.1 469.1H339.1M335.1 499.4H339.1" stroke="#111" stroke-width="0.75" fill="none"/>
<path d="M337.1 466.5V499M335.1 466.5H339.1M335.1 499H339.1" stroke="#111" stroke-width="0.75" fill="none"/>
<path d="M346.4 429.9V491M344.4 429.9H348.4M344.4 491H348.4" stroke="#111" stroke-width="0.75" fill="none"/>
<path d="M346.4 448.9V492.6M344.4 448.9H348.4M344.4 492.6H348.4" stroke="#111" stroke-width="0.75" fill="none"/>
<path d="M346.4 449.1V497.2M344.4 449.1H348.4M344.4 497.2H348.4" stroke="#111" stroke-width="0.75" fill="none"/>
<path d="M355.6 429.4V475.6M353.6 429.4H357.6M353.6 475.6H357.6" stroke="#111" stroke-width="0.75" fill="none"/>
<path d="M355.6 447.6V481.4M353.6 447.6H357.6M353.6 481.4H357.6" stroke="#111" stroke-width="0.75" fill="none"/>
<path d="M355.6 453V491.4M353.6 453H357.6M353.6 491.4H357.6" stroke="#111" stroke-width="0.75" fill="none"/>
<path d="M96.6 566L105.8 567.4L115.1 548.2L124.3 532.3L133.6 526.6L142.8 516L152.1 511.6L161.3 509.2L170.6 506.6L179.8 505.4L189.1 501.1L198.3 490L207.6 480.9L216.8 475.6L226.1 476.1L235.3 480.4L244.6 478L253.8 470.3L263.1 464L272.4 528L281.6 454.9L290.9 446.7L300.1 524.2L309.4 474.1L318.6 534L327.9 491.4L337.1 484.2L346.4 470.8L355.6 464.5" stroke="#111" stroke-width="0.8" fill="none" stroke-dasharray="2 1.6"/>
<path d="M96.6 566L105.8 572.3L115.1 555.7L124.3 547.7L133.6 538.3L142.8 532.8L152.1 526.1L161.3 521.4L170.6 515.5L179.8 511.2L189.1 504.4L198.3 503.6L207.6 503.6L216.8 491L226.1 492.9L235.3 496.3L244.6 492.4L253.8 482.8L263.1 475.6L272.4 546.1L281.6 472.2L290.9 468.8L300.1 529.9L309.4 519.3L318.6 503.5L327.9 497.7L337.1 482.8L346.4 473.2L355.6 472.2" stroke="#111" stroke-width="0.9" fill="none"/>
<path d="M96.6 566L105.8 564.3L115.1 544.4L124.3 527.5L133.6 515L142.8 511.2L152.1 505.4L161.3 502L170.6 494.8L179.8 489.5L189.1 486.6L198.3 476.5L207.6 466.4L216.8 460.7L226.1 457.8L235.3 464L244.6 459.7L253.8 450.1L263.1 442.6L272.4 516.5L281.6 443.8L290.9 441.9L300.1 489L309.4 491.4L318.6 466.9L327.9 460.4L337.1 473.2L346.4 460.4L355.6 452.5" stroke="#111" stroke-width="0.9" fill="none"/>
<path d="M96.6 563.9L98.6 567.5L94.6 567.5Z" fill="#fff" stroke="#111" stroke-width="1.0" stroke-linejoin="miter"/>
<path d="M105.8 565.4L107.8 569L103.8 569Z" fill="#fff" stroke="#111" stroke-width="1.0" stroke-linejoin="miter"/>
<path d="M115.1 546.1L117.1 549.7L113.1 549.7Z" fill="#fff" stroke="#111" stroke-width="1.0" stroke-linejoin="miter"/>
<path d="M124.3 530.2L126.3 533.8L122.3 533.8Z" fill="#fff" stroke="#111" stroke-width="1.0" stroke-linejoin="miter"/>
<path d="M133.6 524.5L135.6 528.1L131.6 528.1Z" fill="#fff" stroke="#111" stroke-width="1.0" stroke-linejoin="miter"/>
<path d="M142.8 513.9L144.8 517.5L140.8 517.5Z" fill="#fff" stroke="#111" stroke-width="1.0" stroke-linejoin="miter"/>
<path d="M152.1 509.6L154.1 513.2L150.1 513.2Z" fill="#fff" stroke="#111" stroke-width="1.0" stroke-linejoin="miter"/>
<path d="M161.3 507.2L163.3 510.8L159.3 510.8Z" fill="#fff" stroke="#111" stroke-width="1.0" stroke-linejoin="miter"/>
<path d="M170.6 504.5L172.6 508.1L168.6 508.1Z" fill="#fff" stroke="#111" stroke-width="1.0" stroke-linejoin="miter"/>
<path d="M179.8 503.3L181.8 506.9L177.8 506.9Z" fill="#fff" stroke="#111" stroke-width="1.0" stroke-linejoin="miter"/>
<path d="M189.1 499L191.1 502.6L187.1 502.6Z" fill="#fff" stroke="#111" stroke-width="1.0" stroke-linejoin="miter"/>
<path d="M198.3 487.9L200.3 491.5L196.3 491.5Z" fill="#fff" stroke="#111" stroke-width="1.0" stroke-linejoin="miter"/>
<path d="M207.6 478.8L209.6 482.4L205.6 482.4Z" fill="#fff" stroke="#111" stroke-width="1.0" stroke-linejoin="miter"/>
<path d="M216.8 473.5L218.8 477.1L214.8 477.1Z" fill="#fff" stroke="#111" stroke-width="1.0" stroke-linejoin="miter"/>
<path d="M226.1 474L228.1 477.6L224.1 477.6Z" fill="#fff" stroke="#111" stroke-width="1.0" stroke-linejoin="miter"/>
<path d="M235.3 478.3L237.3 481.9L233.3 481.9Z" fill="#fff" stroke="#111" stroke-width="1.0" stroke-linejoin="miter"/>
<path d="M244.6 475.9L246.6 479.5L242.6 479.5Z" fill="#fff" stroke="#111" stroke-width="1.0" stroke-linejoin="miter"/>
<path d="M253.8 468.2L255.8 471.8L251.8 471.8Z" fill="#fff" stroke="#111" stroke-width="1.0" stroke-linejoin="miter"/>
<path d="M263.1 461.9L265.1 465.5L261.1 465.5Z" fill="#fff" stroke="#111" stroke-width="1.0" stroke-linejoin="miter"/>
<path d="M272.4 525.9L274.4 529.5L270.4 529.5Z" fill="#fff" stroke="#111" stroke-width="1.0" stroke-linejoin="miter"/>
<path d="M281.6 452.8L283.6 456.4L279.6 456.4Z" fill="#fff" stroke="#111" stroke-width="1.0" stroke-linejoin="miter"/>
<path d="M290.9 444.6L292.9 448.2L288.9 448.2Z" fill="#fff" stroke="#111" stroke-width="1.0" stroke-linejoin="miter"/>
<path d="M300.1 522.1L302.1 525.7L298.1 525.7Z" fill="#fff" stroke="#111" stroke-width="1.0" stroke-linejoin="miter"/>
<path d="M309.4 472L311.4 475.6L307.4 475.6Z" fill="#fff" stroke="#111" stroke-width="1.0" stroke-linejoin="miter"/>
<path d="M318.6 531.9L320.6 535.5L316.6 535.5Z" fill="#fff" stroke="#111" stroke-width="1.0" stroke-linejoin="miter"/>
<path d="M327.9 489.4L329.9 493L325.9 493Z" fill="#fff" stroke="#111" stroke-width="1.0" stroke-linejoin="miter"/>
<path d="M337.1 482.1L339.1 485.7L335.1 485.7Z" fill="#fff" stroke="#111" stroke-width="1.0" stroke-linejoin="miter"/>
<path d="M346.4 468.7L348.4 472.3L344.4 472.3Z" fill="#fff" stroke="#111" stroke-width="1.0" stroke-linejoin="miter"/>
<path d="M355.6 462.4L357.6 466L353.6 466Z" fill="#fff" stroke="#111" stroke-width="1.0" stroke-linejoin="miter"/>
<circle cx="96.6" cy="566" r="2.05" fill="#111"/>
<circle cx="105.8" cy="572.3" r="2.05" fill="#111"/>
<circle cx="115.1" cy="555.7" r="2.05" fill="#111"/>
<circle cx="124.3" cy="547.7" r="2.05" fill="#111"/>
<circle cx="133.6" cy="538.3" r="2.05" fill="#111"/>
<circle cx="142.8" cy="532.8" r="2.05" fill="#111"/>
<circle cx="152.1" cy="526.1" r="2.05" fill="#111"/>
<circle cx="161.3" cy="521.4" r="2.05" fill="#111"/>
<circle cx="170.6" cy="515.5" r="2.05" fill="#111"/>
<circle cx="179.8" cy="511.2" r="2.05" fill="#111"/>
<circle cx="189.1" cy="504.4" r="2.05" fill="#111"/>
<circle cx="198.3" cy="503.6" r="2.05" fill="#111"/>
<circle cx="207.6" cy="503.6" r="2.05" fill="#111"/>
<circle cx="216.8" cy="491" r="2.05" fill="#111"/>
<circle cx="226.1" cy="492.9" r="2.05" fill="#111"/>
<circle cx="235.3" cy="496.3" r="2.05" fill="#111"/>
<circle cx="244.6" cy="492.4" r="2.05" fill="#111"/>
<circle cx="253.8" cy="482.8" r="2.05" fill="#111"/>
<circle cx="263.1" cy="475.6" r="2.05" fill="#111"/>
<circle cx="272.4" cy="546.1" r="2.05" fill="#111"/>
<circle cx="281.6" cy="472.2" r="2.05" fill="#111"/>
<circle cx="290.9" cy="468.8" r="2.05" fill="#111"/>
<circle cx="300.1" cy="529.9" r="2.05" fill="#111"/>
<circle cx="309.4" cy="519.3" r="2.05" fill="#111"/>
<circle cx="318.6" cy="503.5" r="2.05" fill="#111"/>
<circle cx="327.9" cy="497.7" r="2.05" fill="#111"/>
<circle cx="337.1" cy="482.8" r="2.05" fill="#111"/>
<circle cx="346.4" cy="473.2" r="2.05" fill="#111"/>
<circle cx="355.6" cy="472.2" r="2.05" fill="#111"/>
<rect x="94.4" y="563.9" width="4.3" height="4.3" fill="#111"/>
<rect x="103.7" y="562.2" width="4.3" height="4.3" fill="#111"/>
<rect x="112.9" y="542.2" width="4.3" height="4.3" fill="#111"/>
<rect x="122.2" y="525.4" width="4.3" height="4.3" fill="#111"/>
<rect x="131.4" y="512.9" width="4.3" height="4.3" fill="#111"/>
<rect x="140.7" y="509" width="4.3" height="4.3" fill="#111"/>
<rect x="149.9" y="503.2" width="4.3" height="4.3" fill="#111"/>
<rect x="159.2" y="499.9" width="4.3" height="4.3" fill="#111"/>
<rect x="168.4" y="492.7" width="4.3" height="4.3" fill="#111"/>
<rect x="177.7" y="487.4" width="4.3" height="4.3" fill="#111"/>
<rect x="186.9" y="484.5" width="4.3" height="4.3" fill="#111"/>
<rect x="196.2" y="474.4" width="4.3" height="4.3" fill="#111"/>
<rect x="205.4" y="464.3" width="4.3" height="4.3" fill="#111"/>
<rect x="214.7" y="458.5" width="4.3" height="4.3" fill="#111"/>
<rect x="223.9" y="455.6" width="4.3" height="4.3" fill="#111"/>
<rect x="233.2" y="461.9" width="4.3" height="4.3" fill="#111"/>
<rect x="242.4" y="457.5" width="4.3" height="4.3" fill="#111"/>
<rect x="251.7" y="447.9" width="4.3" height="4.3" fill="#111"/>
<rect x="261" y="440.5" width="4.3" height="4.3" fill="#111"/>
<rect x="270.2" y="514.3" width="4.3" height="4.3" fill="#111"/>
<rect x="279.5" y="441.7" width="4.3" height="4.3" fill="#111"/>
<rect x="288.7" y="439.8" width="4.3" height="4.3" fill="#111"/>
<rect x="298" y="486.9" width="4.3" height="4.3" fill="#111"/>
<rect x="307.2" y="489.3" width="4.3" height="4.3" fill="#111"/>
<rect x="316.5" y="464.8" width="4.3" height="4.3" fill="#111"/>
<rect x="325.7" y="458.3" width="4.3" height="4.3" fill="#111"/>
<rect x="335" y="471" width="4.3" height="4.3" fill="#111"/>
<rect x="344.2" y="458.3" width="4.3" height="4.3" fill="#111"/>
<rect x="353.5" y="450.3" width="4.3" height="4.3" fill="#111"/>
<text x="263.1" y="422.2" font-size="15.5" text-anchor="middle" fill="#000" stroke="#111" stroke-width="0.3">*</text>
<rect x="37.8" y="773.3" width="40.9" height="22.8" fill="#fff" stroke="#111" stroke-width="1.1"/>
<path d="M58.2 766.6V780M48.5 766.6H68M48.5 780H68" stroke="#111" stroke-width="0.8" fill="none"/>
<circle cx="57.9" cy="733" r="1.9" fill="#111"/>
<circle cx="52.8" cy="769.5" r="1.9" fill="#111"/>
<circle cx="63.4" cy="771.6" r="1.9" fill="#111"/>
<circle cx="58.1" cy="772" r="1.9" fill="#111"/>
<circle cx="55.8" cy="774.3" r="1.9" fill="#111"/>
<circle cx="60.8" cy="778.7" r="1.9" fill="#111"/>
<circle cx="60.8" cy="792" r="1.9" fill="#111"/>
<circle cx="55.4" cy="796" r="1.9" fill="#111"/>
<rect x="98.1" y="763.2" width="40.5" height="32.9" fill="#fff" stroke="#111" stroke-width="1.1"/>
<path d="M118.3 757.2V770.1M108.6 757.2H128.1M108.6 770.1H128.1" stroke="#111" stroke-width="0.8" fill="none"/>
<rect x="116.7" y="731.3" width="3.7" height="3.7" fill="#111"/>
<rect x="116.7" y="748" width="3.7" height="3.7" fill="#111"/>
<rect x="119.4" y="752.7" width="3.7" height="3.7" fill="#111"/>
<rect x="114" y="756.1" width="3.7" height="3.7" fill="#111"/>
<rect x="114" y="766.8" width="3.7" height="3.7" fill="#111"/>
<rect x="119" y="768.8" width="3.7" height="3.7" fill="#111"/>
<rect x="119" y="783.2" width="3.7" height="3.7" fill="#111"/>
<rect x="114" y="784.9" width="3.7" height="3.7" fill="#111"/>
<rect x="158.4" y="767" width="40.9" height="29.1" fill="#fff" stroke="#111" stroke-width="1.1"/>
<path d="M178.9 761.4V773.3M169.1 761.4H188.6M169.1 773.3H188.6" stroke="#111" stroke-width="0.8" fill="none"/>
<path d="M178.8 737.9L181 741.8L176.7 741.8Z" fill="#fff" stroke="#111" stroke-width="1.0" stroke-linejoin="miter"/>
<path d="M181.5 745.6L183.7 749.5L179.4 749.5Z" fill="#fff" stroke="#111" stroke-width="1.0" stroke-linejoin="miter"/>
<path d="M176.2 750.7L178.3 754.5L174 754.5Z" fill="#fff" stroke="#111" stroke-width="1.0" stroke-linejoin="miter"/>
<path d="M178.8 767.7L181 771.6L176.7 771.6Z" fill="#fff" stroke="#111" stroke-width="1.0" stroke-linejoin="miter"/>
<path d="M186.9 777.8L189 781.7L184.7 781.7Z" fill="#fff" stroke="#111" stroke-width="1.0" stroke-linejoin="miter"/>
<path d="M170.8 780.1L172.9 784L168.6 784Z" fill="#fff" stroke="#111" stroke-width="1.0" stroke-linejoin="miter"/>
<path d="M176.2 780.1L178.3 784L174 784Z" fill="#fff" stroke="#111" stroke-width="1.0" stroke-linejoin="miter"/>
<path d="M181.5 780.1L183.7 784L179.4 784Z" fill="#fff" stroke="#111" stroke-width="1.0" stroke-linejoin="miter"/>
<path d="M27.8 672.1V796.1H209.3M24.8 796.1H27.8M24.8 771.3H27.8M24.8 746.5H27.8M24.8 721.7H27.8M24.8 696.9H27.8M24.8 672.1H27.8M58.2 796.1v3M118.3 796.1v3M178.9 796.1v3" stroke="#111" stroke-width="1.1" fill="none"/>
<text x="23.5" y="799" font-size="8.2" text-anchor="end" fill="#000">0</text>
<text x="23.5" y="774.2" font-size="8.2" text-anchor="end" fill="#000">10</text>
<text x="23.5" y="749.4" font-size="8.2" text-anchor="end" fill="#000">20</text>
<text x="23.5" y="724.6" font-size="8.2" text-anchor="end" fill="#000">30</text>
<text x="23.5" y="699.8" font-size="8.2" text-anchor="end" fill="#000">40</text>
<text x="23.5" y="675" font-size="8.2" text-anchor="end" fill="#000">50</text>
<text x="7.6" y="734" font-size="7.6" text-anchor="middle" fill="#000" transform="rotate(-90 7.6 734)" textLength="136" lengthAdjust="spacingAndGlyphs">Body weight change (% of day 0)</text>
<text x="61.2" y="806.6" font-size="8.5" text-anchor="end" fill="#000" transform="rotate(-45 61.2 806.6)" textLength="49.6" lengthAdjust="spacingAndGlyphs">Hamster IgG</text>
<text x="121.3" y="806.6" font-size="8.5" text-anchor="end" fill="#000" transform="rotate(-45 121.3 806.6)" textLength="55.1" lengthAdjust="spacingAndGlyphs">Anti-CD81 Ab</text>
<text x="181.9" y="806.6" font-size="8.5" text-anchor="end" fill="#000" transform="rotate(-45 181.9 806.6)" textLength="16.5" lengthAdjust="spacingAndGlyphs">SSZ</text>
<rect x="260.3" y="752.9" width="40.2" height="43.1" fill="#fff" stroke="#111" stroke-width="1.1"/>
<path d="M280.4 746.2V760.1M270.6 746.2H290.1M270.6 760.1H290.1" stroke="#111" stroke-width="0.8" fill="none"/>
<circle cx="280" cy="711.3" r="1.9" fill="#111"/>
<circle cx="274.5" cy="746" r="1.9" fill="#111"/>
<circle cx="285.8" cy="747.8" r="1.9" fill="#111"/>
<circle cx="280.4" cy="749.6" r="1.9" fill="#111"/>
<circle cx="277.4" cy="756.9" r="1.9" fill="#111"/>
<circle cx="282.9" cy="759.8" r="1.9" fill="#111"/>
<circle cx="277.4" cy="776.3" r="1.9" fill="#111"/>
<circle cx="282.9" cy="776.3" r="1.9" fill="#111"/>
<rect x="319.8" y="728.8" width="40.6" height="67.2" fill="#fff" stroke="#111" stroke-width="1.1"/>
<path d="M340.1 721.4V736.8M330.4 721.4H349.9M330.4 736.8H349.9" stroke="#111" stroke-width="0.8" fill="none"/>
<rect x="338.1" y="699.2" width="3.7" height="3.7" fill="#111"/>
<rect x="338.1" y="707.6" width="3.7" height="3.7" fill="#111"/>
<rect x="341" y="714.1" width="3.7" height="3.7" fill="#111"/>
<rect x="335.5" y="719.3" width="3.7" height="3.7" fill="#111"/>
<rect x="338.1" y="728.4" width="3.7" height="3.7" fill="#111"/>
<rect x="338.1" y="736.8" width="3.7" height="3.7" fill="#111"/>
<rect x="338.1" y="752.5" width="3.7" height="3.7" fill="#111"/>
<rect x="338.1" y="758.7" width="3.7" height="3.7" fill="#111"/>
<rect x="380.1" y="743" width="40.2" height="53" fill="#fff" stroke="#111" stroke-width="1.1"/>
<path d="M400.2 733.6V752.4M390.5 733.6H410M390.5 752.4H410" stroke="#111" stroke-width="0.8" fill="none"/>
<path d="M400.2 702.8L402.3 706.7L398 706.7Z" fill="#fff" stroke="#111" stroke-width="1.0" stroke-linejoin="miter"/>
<path d="M397.6 711.9L399.8 715.8L395.5 715.8Z" fill="#fff" stroke="#111" stroke-width="1.0" stroke-linejoin="miter"/>
<path d="M403.1 714.5L405.3 718.4L401 718.4Z" fill="#fff" stroke="#111" stroke-width="1.0" stroke-linejoin="miter"/>
<path d="M403.1 747L405.3 750.9L401 750.9Z" fill="#fff" stroke="#111" stroke-width="1.0" stroke-linejoin="miter"/>
<path d="M397.6 749.9L399.8 753.8L395.5 753.8Z" fill="#fff" stroke="#111" stroke-width="1.0" stroke-linejoin="miter"/>
<path d="M400.2 757.6L402.3 761.5L398 761.5Z" fill="#fff" stroke="#111" stroke-width="1.0" stroke-linejoin="miter"/>
<path d="M403.1 769.3L405.3 773.2L401 773.2Z" fill="#fff" stroke="#111" stroke-width="1.0" stroke-linejoin="miter"/>
<path d="M397.6 771.5L399.8 775.3L395.5 775.3Z" fill="#fff" stroke="#111" stroke-width="1.0" stroke-linejoin="miter"/>
<path d="M255.9 672.1V796H430.9M252.9 796H255.9M252.9 771.2H255.9M252.9 746.4H255.9M252.9 721.7H255.9M252.9 696.9H255.9M252.9 672.1H255.9M280.4 796v3M340.1 796v3M400.2 796v3" stroke="#111" stroke-width="1.1" fill="none"/>
<text x="251.6" y="798.9" font-size="8.2" text-anchor="end" fill="#000">0</text>
<text x="251.6" y="774.1" font-size="8.2" text-anchor="end" fill="#000">10</text>
<text x="251.6" y="749.3" font-size="8.2" text-anchor="end" fill="#000">20</text>
<text x="251.6" y="724.6" font-size="8.2" text-anchor="end" fill="#000">30</text>
<text x="251.6" y="699.8" font-size="8.2" text-anchor="end" fill="#000">40</text>
<text x="251.6" y="675" font-size="8.2" text-anchor="end" fill="#000">50</text>
<text x="229.5" y="734" font-size="7.6" text-anchor="middle" fill="#000" transform="rotate(-90 229.5 734)" textLength="136" lengthAdjust="spacingAndGlyphs">Body weight change (% of day 0)</text>
<text x="283.4" y="806.5" font-size="8.5" text-anchor="end" fill="#000" transform="rotate(-45 283.4 806.5)" textLength="49.6" lengthAdjust="spacingAndGlyphs">Hamster IgG</text>
<text x="343.1" y="806.5" font-size="8.5" text-anchor="end" fill="#000" transform="rotate(-45 343.1 806.5)" textLength="55.1" lengthAdjust="spacingAndGlyphs">Anti-CD81 Ab</text>
<text x="403.2" y="806.5" font-size="8.5" text-anchor="end" fill="#000" transform="rotate(-45 403.2 806.5)" textLength="16.5" lengthAdjust="spacingAndGlyphs">SSZ</text>
<line x1="285.1" y1="678.7" x2="341.7" y2="678.7" stroke="#333" stroke-width="0.9"/>
<text x="311.4" y="681.4" font-size="15.5" text-anchor="middle" fill="#000" stroke="#111" stroke-width="0.3">*</text>
<line x1="477" y1="705.8" x2="519.2" y2="705.8" stroke="#555" stroke-width="1.0"/>
<path d="M498.1 703.4V708.1M487.6 703.4H508.6M487.6 708.1H508.6" stroke="#111" stroke-width="0.8" fill="none"/>
<circle cx="486.8" cy="698.8" r="1.95" fill="#111"/>
<circle cx="492.4" cy="701.6" r="1.95" fill="#111"/>
<circle cx="498.1" cy="704.1" r="1.95" fill="#111"/>
<circle cx="503.9" cy="703.3" r="1.95" fill="#111"/>
<circle cx="509.4" cy="699.8" r="1.95" fill="#111"/>
<circle cx="495.4" cy="706.9" r="1.95" fill="#111"/>
<circle cx="500.9" cy="712.4" r="1.95" fill="#111"/>
<circle cx="497.9" cy="720.7" r="1.95" fill="#111"/>
<line x1="540.2" y1="693.5" x2="582.4" y2="693.5" stroke="#555" stroke-width="1.0"/>
<path d="M561.3 691.1V695.8M550.8 691.1H571.8M550.8 695.8H571.8" stroke="#111" stroke-width="0.8" fill="none"/>
<rect x="553.8" y="685.9" width="3.9" height="3.9" fill="#111"/>
<rect x="562.4" y="684" width="3.9" height="3.9" fill="#111"/>
<rect x="550.9" y="688.6" width="3.9" height="3.9" fill="#111"/>
<rect x="557" y="689.8" width="3.9" height="3.9" fill="#111"/>
<rect x="570.9" y="689.6" width="3.9" height="3.9" fill="#111"/>
<rect x="564.8" y="694" width="3.9" height="3.9" fill="#111"/>
<rect x="561.9" y="699.1" width="3.9" height="3.9" fill="#111"/>
<rect x="556.5" y="703" width="3.9" height="3.9" fill="#111"/>
<line x1="603.5" y1="699.2" x2="645.8" y2="699.2" stroke="#555" stroke-width="1.0"/>
<path d="M624.6 697.6V700.7M614.1 697.6H635.1M614.1 700.7H635.1" stroke="#111" stroke-width="0.8" fill="none"/>
<path d="M625 690.5L627.2 694.4L622.8 694.4Z" fill="#fff" stroke="#111" stroke-width="1.05" stroke-linejoin="miter"/>
<path d="M616.5 693.9L618.7 697.8L614.3 697.8Z" fill="#fff" stroke="#111" stroke-width="1.05" stroke-linejoin="miter"/>
<path d="M633.8 694.7L636 698.6L631.6 698.6Z" fill="#fff" stroke="#111" stroke-width="1.05" stroke-linejoin="miter"/>
<path d="M622.3 695.9L624.5 699.8L620.1 699.8Z" fill="#fff" stroke="#111" stroke-width="1.05" stroke-linejoin="miter"/>
<path d="M628 697.1L630.2 701L625.8 701Z" fill="#fff" stroke="#111" stroke-width="1.05" stroke-linejoin="miter"/>
<path d="M619.4 698.1L621.6 702L617.2 702Z" fill="#fff" stroke="#111" stroke-width="1.05" stroke-linejoin="miter"/>
<path d="M630.4 702.7L632.6 706.6L628.2 706.6Z" fill="#fff" stroke="#111" stroke-width="1.05" stroke-linejoin="miter"/>
<path d="M624.5 703.7L626.7 707.6L622.3 707.6Z" fill="#fff" stroke="#111" stroke-width="1.05" stroke-linejoin="miter"/>
<path d="M465.8 668.7V795.3H657M462.8 795.3H465.8M462.8 777.2H465.8M462.8 759.1H465.8M462.8 741H465.8M462.8 723H465.8M462.8 704.9H465.8M462.8 686.8H465.8M462.8 668.7H465.8M498.1 795.3v3M561.3 795.3v3M624.6 795.3v3" stroke="#111" stroke-width="1.1" fill="none"/>
<text x="461.5" y="798.4" font-size="8.6" text-anchor="end" fill="#000">0</text>
<text x="461.5" y="780.3" font-size="8.6" text-anchor="end" fill="#000">20</text>
<text x="461.5" y="762.2" font-size="8.6" text-anchor="end" fill="#000">40</text>
<text x="461.5" y="744.1" font-size="8.6" text-anchor="end" fill="#000">60</text>
<text x="461.5" y="726.1" font-size="8.6" text-anchor="end" fill="#000">80</text>
<text x="461.5" y="708" font-size="8.6" text-anchor="end" fill="#000">100</text>
<text x="461.5" y="689.9" font-size="8.6" text-anchor="end" fill="#000">120</text>
<text x="461.5" y="671.8" font-size="8.6" text-anchor="end" fill="#000">140</text>
<text x="442.5" y="732.6" font-size="9.6" text-anchor="middle" fill="#000" transform="rotate(-90 442.5 732.6)" textLength="78" lengthAdjust="spacingAndGlyphs">Colon length (mm)</text>
<text x="501.1" y="805.8" font-size="8.8" text-anchor="end" fill="#000" transform="rotate(-45 501.1 805.8)" textLength="51.4" lengthAdjust="spacingAndGlyphs">Hamster IgG</text>
<text x="564.3" y="805.8" font-size="8.8" text-anchor="end" fill="#000" transform="rotate(-45 564.3 805.8)" textLength="57" lengthAdjust="spacingAndGlyphs">Anti-CD81 Ab</text>
<text x="627.6" y="805.8" font-size="8.8" text-anchor="end" fill="#000" transform="rotate(-45 627.6 805.8)" textLength="17.1" lengthAdjust="spacingAndGlyphs">SSZ</text>
<line x1="502" y1="672.1" x2="571.2" y2="672.1" stroke="#333" stroke-width="0.9"/>
<text x="538.9" y="671.2" font-size="16" text-anchor="middle" fill="#000" letter-spacing="2.2" stroke="#111" stroke-width="0.3">**</text>
</svg></body></html>
